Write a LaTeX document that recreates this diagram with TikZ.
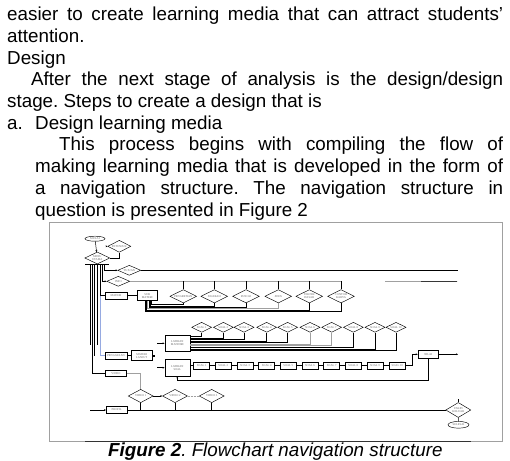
\documentclass[tikz,border=0pt]{standalone}
\usepackage{fontspec}
\setmainfont{Liberation Sans}
\newfontfamily\chartfont{Liberation Serif}
\usepackage{tikz}
\usetikzlibrary{arrows.meta,positioning,calc,shapes.geometric}
\usepackage{xcolor}
\definecolor{figgray}{RGB}{160,160,160}
\definecolor{figblue}{RGB}{150,170,225}
\newcommand{\bodyfont}{\fontsize{18.8}{21.7}\selectfont}
\newcommand{\chartsize}{\chartfont\fontsize{2.9}{3.1}\selectfont}
\frenchspacing

\begin{document}
\begin{tikzpicture}[x=1pt, y=-1pt,
    txt/.style={anchor=base west, inner sep=0pt, font=\bodyfont},
    chbox/.style={draw, rectangle, inner sep=0pt, line width=0.45pt, font=\chartsize, text=black!60, align=center},
    dia/.style={draw, diamond, aspect=2, inner sep=0pt, line width=0.45pt, font=\chartsize, text=black!60, align=center},
    term/.style={draw, ellipse, inner sep=0pt, line width=0.45pt, font=\chartsize, text=black!60},
    link/.style={line width=0.5pt},
    glink/.style={line width=0.5pt, figgray},
    arrow/.style={-{Stealth[length=2pt, width=1.8pt]}, line width=0.5pt}
]
\useasboundingbox (0,0) rectangle (510,460);

% Text
\node[txt] (l1) at (7,20.7) {\makebox[496pt][s]{easier to create learning media that can attract students'}};
\node[txt] (l2) at (7,42.4) {attention.};
\node[txt] (l3) at (7,64.1) {Design};
\node[txt] (l4) at (31,85.8) {\makebox[472pt][s]{After the next stage of analysis is the design/design}};
\node[txt] (l5) at (7,107.5) {stage. Steps to create a design that is};
\node[txt] (l6a) at (7,129.2) {a.};
\node[txt] (l6b) at (35,129.2) {Design learning media};
\node[txt] (l7) at (59,150.9) {\makebox[444pt][s]{This process begins with compiling the flow of}};
\node[txt] (l8) at (35,172.6) {\makebox[468pt][s]{making learning media that is developed in the form of}};
\node[txt] (l9) at (35,194.3) {\makebox[468pt][s]{a navigation structure. The navigation structure in}};
\node[txt] (l10) at (35,216) {question is presented in Figure 2};

% Frame
\node[draw=figgray, line width=0.5pt, minimum width=453pt, minimum height=219pt, inner sep=0pt, anchor=north west] (frame) at (49,222) {};
\draw[line width=1.6pt, black!80] ($(frame.south west)+(36,0)$) -- ($(frame.south east)+(-32,0)$);

% Caption
\node[txt] (cap) at (108,456.7) {\textbf{\textit{Figure 2}}\textit{. Flowchart navigation structure}};

% Start and main menu
\node[term, minimum width=20pt, minimum height=5pt] (start) at (95,238.7) {MULAI};
\node[dia, minimum width=23pt, minimum height=12pt] (pet) at (119.3,246.3) {PETUNJUK};
\node[dia, minimum width=25pt, minimum height=12pt] (menu) at (97.3,258) {MENU\\UTAMA};
\node[fill, minimum width=24pt, minimum height=1.2pt, inner sep=0pt] (bar) at (97,264.5) {};
\coordinate (petin) at (105.5,246.3);
\draw[arrow] (start) -- (menu);
\draw[arrow] (petin) -- (pet);
\draw[link] (pet.south) |- (menu.east);

% Bar outputs
\coordinate (b1) at (90,265.1);
\coordinate (b2) at (92.3,265.1);
\coordinate (b3) at (94.7,265.1);
\coordinate (b4) at (96.9,265.1);
\coordinate (b5) at (100,265.1);
\coordinate (b6) at (101.9,265.1);
\coordinate (b7) at (103.9,265.1);
\coordinate (e1) at (90,345);
\coordinate (e3) at (94.7,356);
\coordinate (e4) at (96.9,345);
\draw[link] (b1) -- (e1);
\draw[link] (b3) -- (e3);
\draw[link] (b4) -- (e4);

% Upper menu items
\node[dia, minimum width=23pt, minimum height=10pt] (tuj) at (129.3,270.3) {TUJUAN};
\node[dia, minimum width=23pt, minimum height=10pt] (info) at (118.3,281.3) {INFO};
\draw[arrow] (b7) |- (tuj);
\draw[arrow] (b6) |- (info);
\coordinate (tujend) at (458,270.3);
\draw[link] (tuj) -- (tujend);
\coordinate (infoend) at (341,281.3);
\draw[glink] (info) -- (infoend);
\coordinate (rs1) at (385,281.3);
\coordinate (rs2) at (457,281.3);
\draw[glink] (rs1) -- (rs2);
\draw[link] ($(rs1)!0.5!(rs2)$) -- (rs2);

% Materi
\node[chbox, minimum width=21.7pt, minimum height=7.3pt] (mat) at (116,295.7) {MATERI};
\node[chbox, minimum width=20pt, minimum height=10pt] (sub) at (147.3,295.7) {SUB\\MATERI};
\draw[link] (b5) |- (mat);
\draw[link] (mat) -- (sub);

\node[dia, minimum width=26.7pt, minimum height=13.3pt] (m1) at (183.3,296.3) {PENGERTIAN};
\node[dia, minimum width=26.7pt, minimum height=13.3pt] (m2) at (214.3,296.3) {SEJARAH};
\node[dia, minimum width=26.7pt, minimum height=13.3pt] (m3) at (246,296.3) {FUNGSI};
\node[dia, minimum width=26.7pt, minimum height=13.3pt] (m4) at (278.3,296.3) {JENIS};
\node[dia, minimum width=26.7pt, minimum height=13.3pt] (m5) at (309.3,296.3) {TEKNIK\\DASAR};
\node[dia, minimum width=26.7pt, minimum height=13.3pt] (m6) at (341,296.3) {CONTOH\\KARYA};
\draw[link] (m1.north) -- (m1.north |- info.east);
\draw[link] (m2.north) -- (m2.north |- info.east);
\draw[link] (m3.north) -- (m3.north |- info.east);
\draw[link] (m4.north) -- (m4.north |- info.east);
\draw[link] (m5.north) -- (m5.north |- info.east);
\draw[link] (m6.north) -- (m6.north |- info.east);
\draw[link] ([xshift=4.2pt]sub.south) -- ++(0,3.3) -| (m1.south);
\draw[link] ([xshift=3pt]sub.south) -- ++(0,5) -| (m2.south);
\draw[link] ([xshift=1.7pt]sub.south) -- ++(0,6.6) -| (m3.south);
\draw[glink] ([xshift=0.4pt]sub.south) -- ++(0,7.8) -| (m4.south);
\draw[link] ([xshift=-0.8pt]sub.south) -- ++(0,9.3) -| (m5.south);
\draw[link] ([xshift=-2pt]sub.south) -- ++(0,10.6) -| (m6.south);

% Pengayaan
\node[chbox, minimum width=21.7pt, minimum height=6.7pt] (peng) at (116,355.7) {PENGAYAAN};
\node[chbox, minimum width=20.7pt, minimum height=10pt] (lanj) at (141.7,355.7) {MATERI\\LANJUT};
\node[fill, minimum size=2.4pt, inner sep=0pt] (sq) at (153.3,355.7) {};
\draw[link, figblue] (b5 |- mat.west) |- (peng);
\draw[link] (peng) -- (lanj);
\coordinate (a1) at (157,343.3);
\coordinate (a2) at (157,367.7);

% Latihan mandiri
\node[chbox, minimum width=25pt, minimum height=16.7pt] (lat1) at (177.3,343.3) {LATIHAN\\MANDIRI};
\draw[arrow] (a1) -- (lat1);
\node[dia, minimum width=20pt, minimum height=10pt] (s1) at (201.7,327.3) {SOAL 1};
\node[dia, minimum width=20pt, minimum height=10pt] (s2) at (223.3,327.3) {SOAL 2};
\node[dia, minimum width=20pt, minimum height=10pt] (s3) at (244,327.3) {SOAL 3};
\node[dia, minimum width=20pt, minimum height=10pt] (s4) at (266.7,327.3) {SOAL 4};
\node[dia, minimum width=20pt, minimum height=10pt] (s5) at (287.7,327.3) {SOAL 5};
\node[dia, minimum width=20pt, minimum height=10pt] (s6) at (310,327.3) {SOAL 6};
\node[dia, minimum width=20pt, minimum height=10pt] (s7) at (331.7,327.3) {SOAL 7};
\node[dia, minimum width=20pt, minimum height=10pt] (s8) at (353.3,327.3) {SOAL 8};
\node[dia, minimum width=20pt, minimum height=10pt] (s9) at (375,327.3) {SOAL 9};
\node[dia, minimum width=20pt, minimum height=10pt] (s10) at (396,327.3) {SOAL 10};
\draw[link] ($(lat1.north east)+(0,1.7)$) -| (s1.south);
\draw[link] ($(lat1.north east)+(0,3.25)$) -| (s2.south);
\draw[link] ($(lat1.north east)+(0,4.8)$) -| (s3.south);
\draw[link] ($(lat1.north east)+(0,6.35)$) -| (s4.south);
\draw[link] ($(lat1.north east)+(0,7.9)$) -| (s5.south);
\draw[glink] ($(lat1.north east)+(0,9.45)$) -| (s6.south);
\draw[glink] ($(lat1.north east)+(0,11)$) -| (s7.south);
\draw[link] ($(lat1.north east)+(0,12.55)$) -| (s8.south);
\draw[link] ($(lat1.north east)+(0,14.1)$) -| (s9.south);
\draw[link] ($(lat1.north east)+(0,15.65)$) -| (s10.south);

% Latihan soal
\node[chbox, minimum width=25pt, minimum height=16.7pt] (lat2) at (177.3,367.7) {LATIHAN\\SOAL};
\draw[arrow] (a2) -- (lat2);
\node[chbox, minimum width=16pt, minimum height=7.3pt] (q1) at (201.7,365.7) {SOAL 1};
\node[chbox, minimum width=16pt, minimum height=7.3pt] (q2) at (223.3,365.7) {SOAL 2};
\node[chbox, minimum width=16pt, minimum height=7.3pt] (q3) at (245,365.7) {SOAL 3};
\node[chbox, minimum width=16pt, minimum height=7.3pt] (q4) at (266.7,365.7) {SOAL 4};
\node[chbox, minimum width=16pt, minimum height=7.3pt] (q5) at (288.3,365.7) {SOAL 5};
\node[chbox, minimum width=16pt, minimum height=7.3pt] (q6) at (310,365.7) {SOAL 6};
\node[chbox, minimum width=16pt, minimum height=7.3pt] (q7) at (331.7,365.7) {SOAL 7};
\node[chbox, minimum width=16pt, minimum height=7.3pt] (q8) at (353.3,365.7) {SOAL 8};
\node[chbox, minimum width=16pt, minimum height=7.3pt] (q9) at (375,365.7) {SOAL 9};
\node[chbox, minimum width=16pt, minimum height=7.3pt] (q10) at (397.3,365.7) {SOAL 10};
\draw[link] (q1.west -| lat2.east) -- (q1);
\draw[link] (q1) -- (q2);
\draw[link] (q2) -- (q3);
\draw[link] (q3) -- (q4);
\draw[link] (q4) -- (q5);
\draw[link] (q5) -- (q6);
\draw[link] (q6) -- (q7);
\draw[link] (q7) -- (q8);
\draw[link] (q8) -- (q9);
\draw[link] (q9) -- (q10);

% Nilai
\node[chbox, minimum width=20.7pt, minimum height=7.3pt] (nilai) at (428.3,354.3) {NILAI};
\coordinate (nout) at (458,354.3);
\draw[arrow] (q10.east) -- ++(6.4,0) |- (nilai);
\draw[arrow] (nilai) -- (nout);
\draw[arrow] (nilai.south) -- ++(0,22) -| (lat2.south);

% Video
\node[chbox, minimum width=21pt, minimum height=6.7pt] (vid) at (116,373.3) {VIDEO};
\draw[link] (b2) |- (vid);
\node[dia, minimum width=25pt, minimum height=13.3pt] (v1) at (140.7,396) {VIDEO 1};
\node[dia, minimum width=25pt, minimum height=13.3pt] (v2) at (175,396) {VIDEO 2};
\node[dia, minimum width=25pt, minimum height=13.3pt] (v3) at (211.7,396) {VIDEO 3};
\draw[glink] (vid) -| (v1);
\draw[arrow] (v1) -- (v2);
\draw[glink, densely dotted] (v2) -- (v3);

% Profil and exit
\node[chbox, minimum width=21pt, minimum height=7pt] (prof) at (116.7,410) {PROFIL};
\coordinate (pin) at (90,410);
\draw[arrow] (pin) -- (prof);
\node[dia, minimum width=25pt, minimum height=15pt] (exit) at (458.3,410) {YAKIN\\KELUAR};
\node[term, minimum width=21pt, minimum height=6.7pt] (fin) at (458.5,424.8) {SELESAI};
\draw[link] (prof) -- (exit);
\draw[link] (v1.south) -- (v1.south |- prof.east);
\draw[link] (v2.south) -- (v2.south |- prof.east);
\draw[link] (v3.south) -- (v3.south |- prof.east);
\draw[link] (exit) -- (fin);
\coordinate (extop) at (458.3,399);
\draw[link] (extop) -- (exit.north);

\end{tikzpicture}
\end{document}
